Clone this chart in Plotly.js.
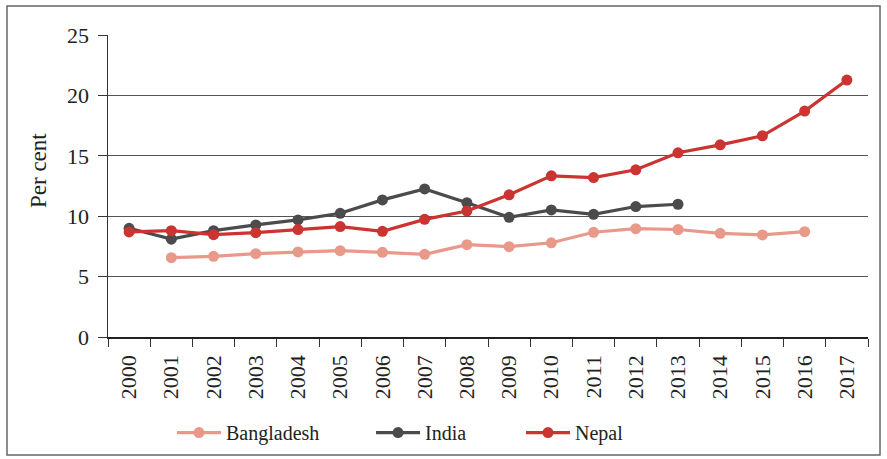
<!DOCTYPE html>
<html>
<head>
<meta charset="utf-8">
<script src="https://cdn.plot.ly/plotly-3.0.1.min.js"></script>
<style>html,body{margin:0;padding:0;background:#fff;}#chart{width:887px;height:459px;}</style>
</head>
<body>
<div id="chart"></div>
<script>
const years = ["2000","2001","2002","2003","2004","2005","2006","2007","2008","2009","2010","2011","2012","2013","2014","2015","2016","2017"];
const bangladesh = [null,6.57,6.68,6.9,7.04,7.15,7.01,6.84,7.64,7.48,7.8,8.67,8.97,8.9,8.58,8.45,8.72,null];
const india = [9.0,8.1,8.8,9.28,9.69,10.24,11.35,12.26,11.12,9.91,10.52,10.16,10.8,10.99,null,null,null,null];
const nepal = [8.7,8.8,8.47,8.64,8.89,9.14,8.75,9.74,10.43,11.77,13.34,13.2,13.84,15.25,15.91,16.66,18.7,21.27];

const names = ["Bangladesh","India","Nepal"];
const colors = ["#e8998a","#4b4b4d","#cb3431"];
const series = [bangladesh, india, nepal];
const legendIds = ["legend","legend2","legend3"];

const traces = series.map((s,i)=>({
  type:"scatter", mode:"lines+markers", name:names[i],
  x:years, y:s, legend:legendIds[i],
  line:{color:colors[i], width:3.2},
  marker:{color:colors[i], size:11},
  connectgaps:false
}));

const font = "Liberation Serif, Times New Roman, serif";
const legBase = {orientation:"h", xanchor:"left", y:-0.252, yanchor:"top",
  font:{family:font, size:20, color:"#222"}, itemwidth:44, bgcolor:"rgba(0,0,0,0)"};
const layout = {
  width:887, height:459,
  margin:{l:108, r:19, t:35, b:122, autoexpand:false},
  paper_bgcolor:"#fff", plot_bgcolor:"#fff",
  font:{family:font, size:21, color:"#222"},
  showlegend:true,
  legend:Object.assign({}, legBase, {x:0.0842}),
  legend2:Object.assign({}, legBase, {x:0.3461}),
  legend3:Object.assign({}, legBase, {x:0.5434}),
  xaxis:{type:"category", tickson:"boundaries", ticks:"outside", ticklen:8, tickcolor:"#333",
         tickangle:-90, showgrid:false, showline:true, linecolor:"#222", linewidth:1.5,
         ticklabelstandoff:8, automargin:false,
         tickfont:{family:font, size:22, color:"#222"}, range:[-0.5,17.5], fixedrange:true},
  yaxis:{range:[0,25], dtick:5, ticks:"outside", ticklen:9, tickcolor:"#333", automargin:false,
         showline:true, linecolor:"#333", linewidth:1.5, showgrid:true, gridcolor:"#555", gridwidth:1,
         zeroline:false, ticklabelstandoff:4,
         tickfont:{family:font, size:22, color:"#222"}},
  annotations:[{text:"Per cent", xref:"paper", yref:"paper", x:(38-108)/760, y:(337-171)/302,
                xanchor:"center", yanchor:"middle", textangle:-90, showarrow:false,
                font:{family:font, size:23, color:"#222"}}],
  shapes:[{type:"rect", xref:"paper", yref:"paper", x0:-0.1329, x1:1.0158, y0:-0.3907, y1:1.096,
           line:{color:"#666", width:1.5}, fillcolor:"rgba(0,0,0,0)", layer:"below"}]
};
Plotly.newPlot("chart", traces, layout, {displayModeBar:false, staticPlot:true});
</script>
</body>
</html>
